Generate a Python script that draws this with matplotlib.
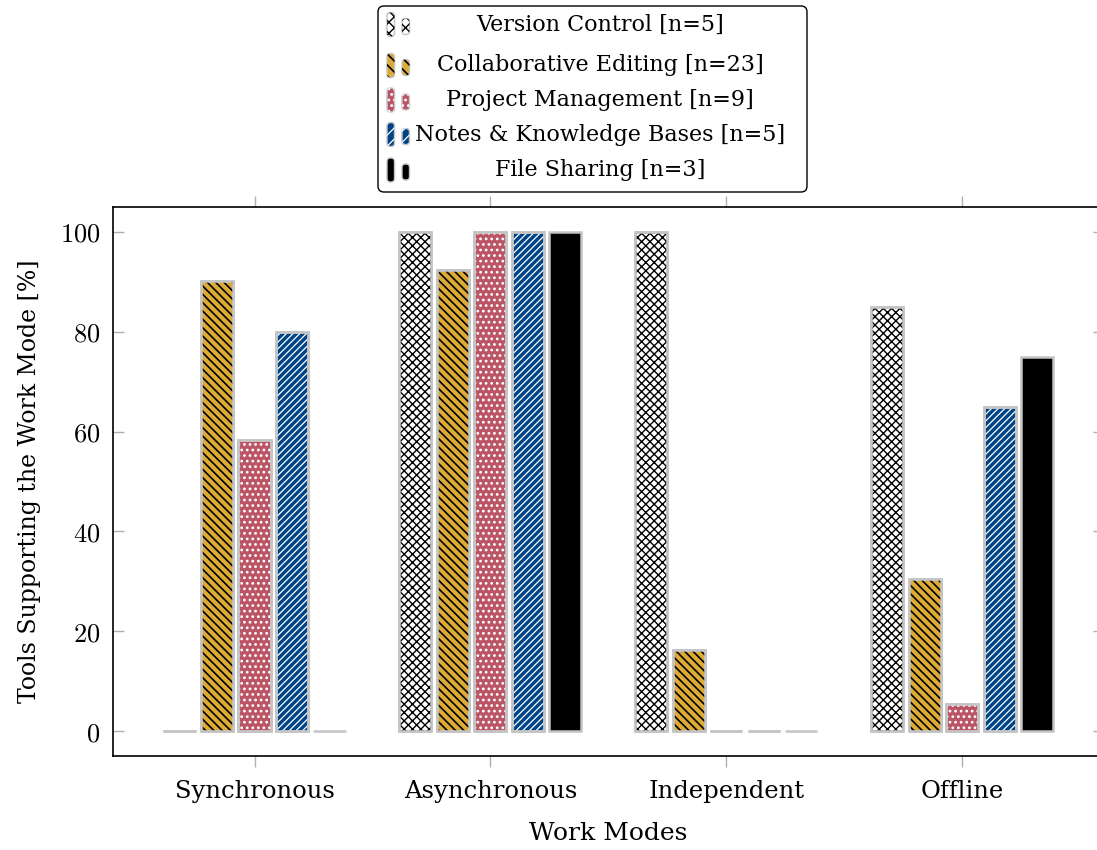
import matplotlib
matplotlib.use("Agg")
import matplotlib.pyplot as plt
import numpy as np
from matplotlib.patches import FancyBboxPatch
from matplotlib.ticker import FuncFormatter

plt.rcParams['font.family'] = ['DejaVu Serif']
plt.rcParams['mathtext.fontset'] = 'cm'

# data
modes = ["Synchronous", "Asynchronous", "Independent", "Offline"]
labels = ["Version Control [n=5]", "Collaborative Editing [n=23]",
          "Project Management [n=9]", "Notes & Knowledge Bases [n=5]",
          "File Sharing [n=3]"]
version_control = [0, 100, 100, 85]
collab_editing = [90.2, 92.4, 16.3, 30.4]
project_mgmt = [58.3, 100, 0, 5.5]
notes_kb = [80, 100, 0, 65]
file_sharing = [0, 100, 0, 75]

series = [version_control, collab_editing, project_mgmt, notes_kb, file_sharing]
faces = ["white", "#DDAA33", "#BB5566", "#004488", "black"]
hatches = ["xxxx", "\\\\\\\\", "...", "/////", None]
hatch_cols = ["black", "black", "white", "white", None]
hatch_lw = [1.0, 1.2, 1.2, 0.9, 1.0]
edge = "#c4c4c4"

fig = plt.figure(figsize=(10.97, 8.5), dpi=100)
ax = fig.add_axes([0.103, 0.1106, 0.903, 0.6459])

x = np.arange(len(modes))
step = 0.159
width = 0.136

for i, vals in enumerate(series):
    pos = x + (i - 2) * step
    ax.bar(pos, vals, width, color=faces[i], edgecolor=edge, linewidth=1.8,
           zorder=2)
    if hatches[i]:
        plt.rcParams['hatch.linewidth'] = hatch_lw[i]
        ax.bar(pos, vals, width, color="none", edgecolor=hatch_cols[i],
               linewidth=0, hatch=hatches[i], zorder=3)
        ax.bar(pos, vals, width, color="none", edgecolor=edge, linewidth=1.8,
               zorder=4)

ax.set_xlim(-0.6, 3.6)
ax.set_ylim(-5, 105)
ax.set_xticks(x)
ax.set_xticklabels(modes, fontsize=17.5)
ax.set_yticks([0, 20, 40, 60, 80, 100])
ax.yaxis.set_major_formatter(FuncFormatter(lambda v, p: f"${v:g}$"))
ax.tick_params(axis="y", labelsize=19, direction="in", length=8,
               color="#b0b0b0", right=True, width=1, pad=9)
ax.tick_params(axis="x", direction="out", length=8, color="#b0b0b0",
               top=True, width=1, pad=9)
ax.spines["right"].set_visible(False)
for s in ["left", "top", "bottom"]:
    ax.spines[s].set_linewidth(1.2)
ax.set_xlabel("Work Modes", fontsize=18, labelpad=14)
ax.set_ylabel("Tools Supporting the Work Mode [%]", fontsize=17, labelpad=14)

# legend box drawn by hand so the labels sit centred like in pgfplots
H = 8.5  # figure height in inches, y measured from the top
tr = fig.dpi_scale_trans
frame = FancyBboxPatch((3.78, H - 1.92), 4.29, 1.86,
                       boxstyle="round,pad=0,rounding_size=0.06",
                       facecolor="white", edgecolor="black", lw=1.0,
                       transform=tr)
fig.add_artist(frame)
rows = [0.245, 0.655, 1.0, 1.345, 1.70]
for i, lab in enumerate(labels):
    yc = H - rows[i]
    if hatches[i]:
        plt.rcParams['hatch.linewidth'] = hatch_lw[i]
    for x0, hh, dy in [(3.87, 0.24, 0.0), (4.02, 0.16, -0.02)]:
        kw = dict(boxstyle="round,pad=0,rounding_size=0.035", transform=tr)
        fig.add_artist(FancyBboxPatch((x0, yc - hh / 2 + dy), 0.075, hh,
                                      facecolor=faces[i], edgecolor=edge,
                                      lw=1.0, **kw))
        if hatches[i]:
            fig.add_artist(FancyBboxPatch((x0, yc - hh / 2 + dy), 0.075, hh,
                                          facecolor="none",
                                          edgecolor=hatch_cols[i], lw=0,
                                          hatch=hatches[i][:3], **kw))
    fig.text(6.0, yc, lab, transform=tr, ha="center", va="center",
             fontsize=16)

fig.savefig("out.png", dpi=100)
